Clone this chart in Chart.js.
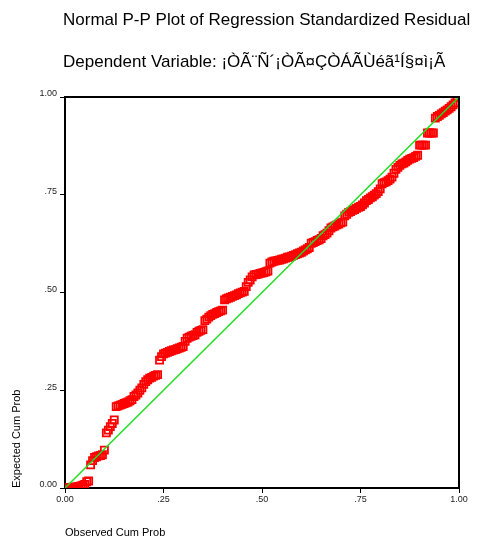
<!DOCTYPE html>
<html>
<head>
<meta charset="utf-8">
<script src="https://cdn.jsdelivr.net/npm/chart.js@4"></script>
<style>
  html, body { margin: 0; padding: 0; background: #fff; }
  #wrap { width: 484px; height: 540px; }
</style>
</head>
<body>
<div id="wrap"><canvas id="ppPlot" width="484" height="540"></canvas></div>
<script>
  // Titel och axeltexter
  const titleLines = [
    'Normal P-P Plot of Regression Standardized Residual',
    'Dependent Variable: ¡ÒÃ¨Ñ´¡ÒÃ¤ÇÒÁÃÙéã¹Í§¤ì¡Ã'
  ];
  const xTitle = 'Observed Cum Prob';
  const yTitle = 'Expected Cum Prob';
  const tickLabels = ['0.00', '.25', '.50', '.75', '1.00'];

  // Observerad kumulativ sannolikhet (x)
  const observedCum = [
    0.000, 0.005, 0.010, 0.015, 0.020, 0.025, 0.030, 0.035, 0.040, 0.045,
    0.050, 0.055, 0.060, 0.065, 0.070, 0.075, 0.080, 0.085, 0.090, 0.095,
    0.100, 0.105, 0.110, 0.115, 0.120, 0.125, 0.130, 0.135, 0.140, 0.145,
    0.150, 0.155, 0.160, 0.165, 0.170, 0.175, 0.180, 0.185, 0.190, 0.195,
    0.200, 0.205, 0.210, 0.215, 0.220, 0.225, 0.230, 0.235, 0.240, 0.245,
    0.250, 0.255, 0.260, 0.265, 0.270, 0.275, 0.280, 0.285, 0.290, 0.295,
    0.300, 0.305, 0.310, 0.315, 0.320, 0.325, 0.330, 0.335, 0.340, 0.345,
    0.350, 0.355, 0.360, 0.365, 0.370, 0.375, 0.380, 0.385, 0.390, 0.395,
    0.400, 0.405, 0.410, 0.415, 0.420, 0.425, 0.430, 0.435, 0.440, 0.445,
    0.450, 0.455, 0.460, 0.465, 0.470, 0.475, 0.480, 0.485, 0.490, 0.495,
    0.500, 0.505, 0.510, 0.515, 0.520, 0.525, 0.530, 0.535, 0.540, 0.545,
    0.550, 0.555, 0.560, 0.565, 0.570, 0.575, 0.580, 0.585, 0.590, 0.595,
    0.600, 0.605, 0.610, 0.615, 0.620, 0.625, 0.630, 0.635, 0.640, 0.645,
    0.650, 0.655, 0.660, 0.665, 0.670, 0.675, 0.680, 0.685, 0.690, 0.695,
    0.700, 0.705, 0.710, 0.715, 0.720, 0.725, 0.730, 0.735, 0.740, 0.745,
    0.750, 0.755, 0.760, 0.765, 0.770, 0.775, 0.780, 0.785, 0.790, 0.795,
    0.800, 0.805, 0.810, 0.815, 0.820, 0.825, 0.830, 0.835, 0.840, 0.845,
    0.850, 0.855, 0.860, 0.865, 0.870, 0.875, 0.880, 0.885, 0.890, 0.895,
    0.900, 0.905, 0.910, 0.915, 0.920, 0.925, 0.930, 0.935, 0.940, 0.945,
    0.950, 0.955, 0.960, 0.965, 0.970, 0.975, 0.980, 0.985, 0.990, 0.995
  ];

  // Förväntad kumulativ sannolikhet (y)
  const expectedCum = [
    0.000, 0.000, 0.001, 0.001, 0.002, 0.002, 0.003, 0.004, 0.005, 0.007,
    0.009, 0.016, 0.018, 0.059, 0.070, 0.078, 0.080, 0.082, 0.083, 0.085,
    0.097, 0.141, 0.148, 0.157, 0.165, 0.174, 0.208, 0.210, 0.212, 0.214,
    0.216, 0.218, 0.220, 0.223, 0.226, 0.234, 0.238, 0.243, 0.250, 0.256,
    0.265, 0.272, 0.277, 0.281, 0.283, 0.286, 0.288, 0.290, 0.327, 0.336,
    0.343, 0.345, 0.347, 0.349, 0.351, 0.353, 0.354, 0.356, 0.358, 0.360,
    0.362, 0.375, 0.383, 0.386, 0.388, 0.390, 0.392, 0.398, 0.401, 0.403,
    0.405, 0.428, 0.432, 0.437, 0.441, 0.444, 0.446, 0.449, 0.451, 0.453,
    0.455, 0.481, 0.484, 0.486, 0.488, 0.490, 0.492, 0.494, 0.497, 0.499,
    0.501, 0.503, 0.515, 0.526, 0.532, 0.540, 0.545, 0.546, 0.547, 0.549,
    0.550, 0.551, 0.553, 0.555, 0.575, 0.578, 0.580, 0.581, 0.582, 0.583,
    0.585, 0.586, 0.588, 0.590, 0.591, 0.593, 0.595, 0.597, 0.599, 0.601,
    0.603, 0.606, 0.609, 0.612, 0.615, 0.626, 0.628, 0.630, 0.633, 0.635,
    0.638, 0.645, 0.648, 0.652, 0.658, 0.665, 0.668, 0.670, 0.673, 0.675,
    0.678, 0.680, 0.696, 0.700, 0.705, 0.707, 0.710, 0.712, 0.715, 0.718,
    0.720, 0.724, 0.729, 0.735, 0.738, 0.742, 0.745, 0.749, 0.753, 0.758,
    0.765, 0.778, 0.781, 0.783, 0.786, 0.790, 0.795, 0.805, 0.815, 0.820,
    0.825, 0.829, 0.831, 0.834, 0.838, 0.841, 0.843, 0.845, 0.848, 0.851,
    0.877, 0.877, 0.877, 0.877, 0.908, 0.908, 0.908, 0.908, 0.946, 0.950,
    0.953, 0.957, 0.960, 0.964, 0.967, 0.971, 0.975, 0.980, 0.985, 1.000
  ];

  // Diagonalen (förväntad = observerad)
  const diagonalX = [0, 1];
  const diagonalY = [0, 1];

  const FONT = '"Liberation Sans", Arial, sans-serif';

  // Ritar rubriker och ramen runt plottytan
  const framePlugin = {
    id: 'frame',
    afterDraw(chart) {
      const { ctx, chartArea: a } = chart;
      ctx.save();
      ctx.strokeStyle = '#000';
      ctx.lineWidth = 2;
      ctx.beginPath();
      ctx.moveTo(a.left, a.top);
      ctx.lineTo(a.right, a.top);
      ctx.lineTo(a.right, a.bottom);
      ctx.stroke();
      ctx.fillStyle = '#000';
      ctx.font = '17px ' + FONT;
      ctx.textBaseline = 'middle';
      ctx.textAlign = 'left';
      ctx.fillText(titleLines[0], 63, 20);
      ctx.fillText(titleLines[1], 63, 62);
      ctx.restore();
    }
  };

  const ctx = document.getElementById('ppPlot').getContext('2d');
  const ppPlot = new Chart(ctx, {
    type: 'scatter',
    data: {
      datasets: [
        {
          type: 'line',
          data: diagonalX.map((x, i) => ({ x, y: diagonalY[i] })),
          borderColor: '#22dd22',
          borderWidth: 1.5,
          pointRadius: 0,
          fill: false,
        },
        {
          data: observedCum.map((x, i) => ({ x, y: expectedCum[i] })),
          pointStyle: 'rect',
          pointRadius: 5,
          borderColor: '#ff0000',
          borderWidth: 1.8,
          backgroundColor: 'rgba(0,0,0,0)',
        },
      ],
    },
    options: {
      responsive: false,
      animation: false,
      layout: { padding: { top: 97, right: 25, left: 0, bottom: 0 } },
      plugins: { legend: { display: false }, tooltip: { enabled: false } },
      scales: {
        x: {
          type: 'linear',
          min: 0,
          max: 1,
          afterFit(scale) { scale.height = 52; },
          ticks: {
            stepSize: 0.25,
            padding: 1,
            color: '#222',
            font: { family: FONT, size: 9 },
            maxRotation: 0,
            callback: (v, i) => tickLabels[i],
          },
          grid: { drawOnChartArea: false, drawTicks: true, tickLength: 5, color: '#000' },
          border: { color: '#000', width: 2 },
          title: {
            display: true,
            text: xTitle,
            align: 'start',
            color: '#000',
            font: { family: FONT, size: 11 },
            padding: { top: 0, bottom: 0 },
          },
        },
        y: {
          type: 'linear',
          min: 0,
          max: 1,
          afterFit(scale) { scale.width = 65; },
          ticks: {
            stepSize: 0.25,
            padding: 3,
            labelOffset: -3,
            color: '#222',
            font: { family: FONT, size: 9 },
            callback: (v, i) => tickLabels[i],
          },
          grid: { drawOnChartArea: false, drawTicks: true, tickLength: 5, color: '#000' },
          border: { color: '#000', width: 2 },
          title: {
            display: true,
            text: yTitle,
            align: 'start',
            color: '#000',
            font: { family: FONT, size: 11 },
            padding: { top: 10, bottom: 0 },
          },
        },
      },
    },
    plugins: [framePlugin],
  });
</script>
</body>
</html>
